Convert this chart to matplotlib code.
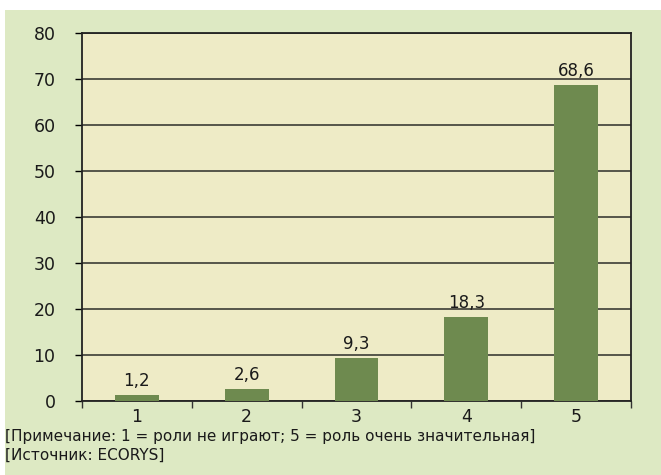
import matplotlib
matplotlib.use('Agg')
import matplotlib.pyplot as plt
from matplotlib.patches import Rectangle

categories = ['1', '2', '3', '4', '5']
values = [1.2, 2.6, 9.3, 18.3, 68.6]
labels = ['1,2', '2,6', '9,3', '18,3', '68,6']
note_lines = ['[Примечание: 1 = роли не играют; 5 = роль очень значительная]',
              '[Источник: ECORYS]']

plt.rcParams['font.family'] = ['DejaVu Sans']

fig = plt.figure(figsize=(6.61, 4.75), dpi=100)
fig.patch.set_facecolor('white')
fig.patches.append(Rectangle((5/661, 0), 1, 1 - 10/475, transform=fig.transFigure,
                             facecolor='#dde9c3', edgecolor='none', zorder=-1))

ax = fig.add_axes([82/661, 1 - 401/475, 549/661, 368/475])
ax.set_facecolor('#eeebc6')

x = range(len(categories))
ax.bar(x, values, width=0.4, color='#6e8a4f', zorder=3)
for xi, v, lab in zip(x, values, labels):
    ax.text(xi, v + 1.1, lab, ha='center', va='bottom', fontsize=12, color='#1a1a1a')

ax.set_xlim(-0.5, len(categories) - 0.5)
ax.set_ylim(0, 80)
ax.set_yticks(range(0, 81, 10))
ax.yaxis.grid(True, color='#4a4a40', linewidth=1.3, zorder=1)
ax.set_axisbelow(True)

ax.set_xticks([i + 0.5 for i in range(-1, len(categories))])
ax.set_xticklabels([])
ax.set_xticks(list(x), minor=True)
ax.set_xticklabels(categories, minor=True)
ax.tick_params(axis='x', which='major', length=5, width=1, direction='out', color='#333333')
ax.tick_params(axis='x', which='minor', length=0, pad=5, labelsize=12.5, labelcolor='#1a1a1a')
ax.tick_params(axis='y', length=5, width=1, direction='out', pad=14, labelsize=12.5,
               labelcolor='#1a1a1a')

for s in ax.spines.values():
    s.set_color('#222222')
    s.set_linewidth(1.3)

fig.text(5/661, 1 - 437/475, note_lines[0], fontsize=11, va='center', ha='left', color='#1a1a1a')
fig.text(5/661, 1 - 455/475, note_lines[1], fontsize=11, va='center', ha='left', color='#1a1a1a')

fig.savefig('out.png', dpi=100)
